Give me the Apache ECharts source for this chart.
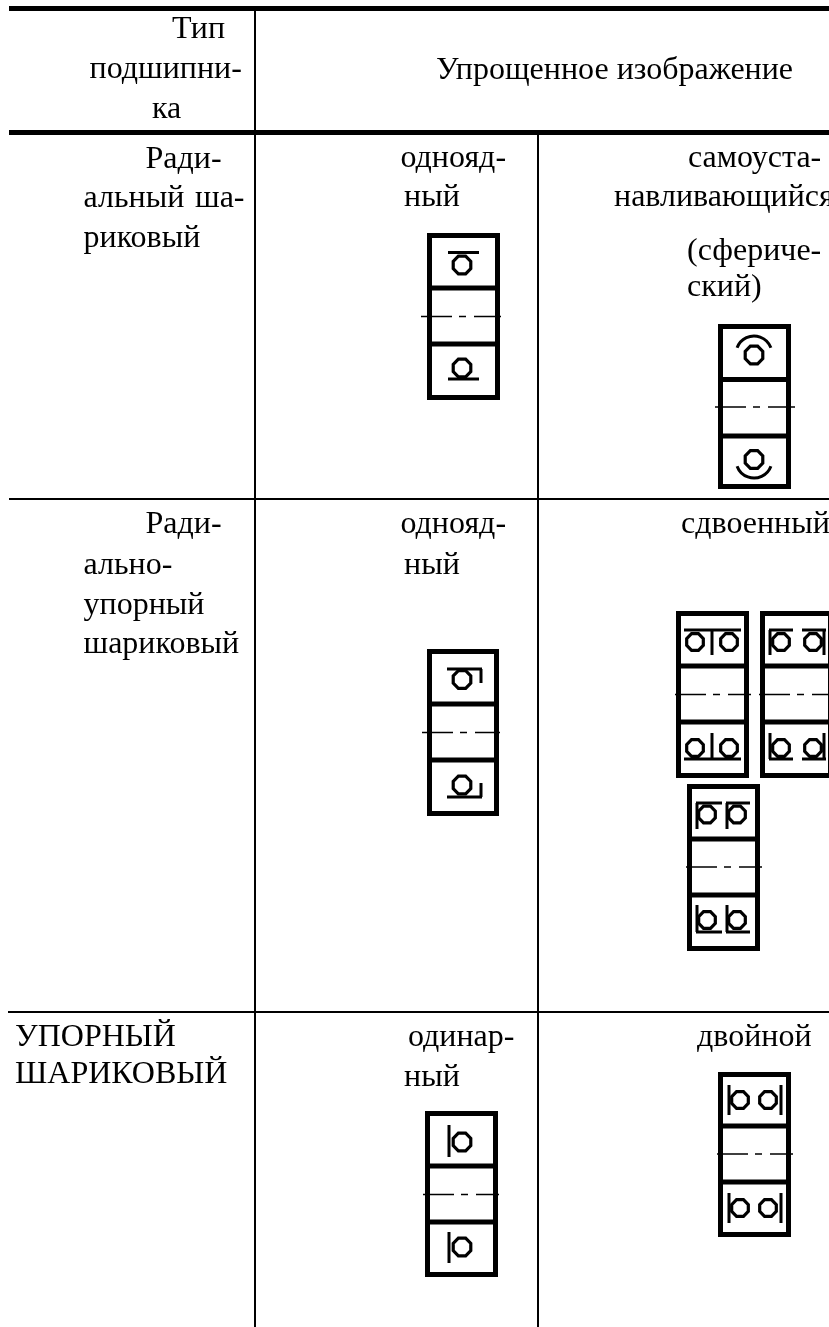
<!DOCTYPE html>
<html>
<head>
<meta charset="utf-8">
<style>
  html, body { margin: 0; background: #fff; }
  #chart { width: 829px; height: 1327px; }
</style>
<script src="https://cdn.jsdelivr.net/npm/echarts@6/dist/echarts.min.js"></script>
</head>
<body>
<div id="chart"></div>
<script>
// all numbers are read off the picture, in axis units (x: 0-829, y: 0-1327)
// text: string, left edge, baseline
var textLines = [
  ["Тип", 172, 40], ["подшипни-", 89.5, 80], ["ка", 152, 120],
  ["Упрощенное изображение", 436, 81],
  ["Ради-", 145.5, 170], ["альный", 83.5, 209], ["ша-", 195, 209], ["риковый", 83.5, 249],
  ["однояд-", 400.5, 169], ["ный", 404, 208],
  ["самоуста-", 688, 169], ["навливающийся", 614, 208],
  ["(сфериче-", 687, 262], ["ский)", 687, 298],
  ["Ради-", 145.5, 535], ["ально-", 83.5, 576], ["упорный", 83.5, 616], ["шариковый", 83.5, 655],
  ["однояд-", 400.5, 535], ["ный", 404, 576], ["сдвоенный", 681, 535],
  ["УПОРНЫЙ", 15, 1048], ["ШАРИКОВЫЙ", 15, 1085],
  ["одинар-", 408, 1048], ["ный", 404, 1088], ["двойной", 697, 1048]
];
var heavyRules = [[9, 8.5, 829, 8.5], [9, 132.5, 829, 132.5]];
var thinRules = [
  [9, 499, 829, 499], [8, 1012, 829, 1012],
  [255, 8, 255, 1327], [538, 133, 538, 1327]
];
var frames = [
  [427, 233, 500, 400], [718, 324, 791, 489], [427, 649, 499, 816], [676, 611, 749, 778],
  [760, 611, 833, 778], [687, 784, 760, 951], [425, 1111, 498, 1277], [718, 1072, 791, 1237]
];
var dividers = [
  [427, 288, 500, 288], [427, 344, 500, 344],
  [718, 379.5, 791, 379.5], [718, 436, 791, 436],
  [427, 704, 499, 704], [427, 760, 499, 760],
  [676, 666, 749, 666], [676, 722, 749, 722],
  [760, 666, 833, 666], [760, 722, 833, 722],
  [687, 839, 760, 839], [687, 895, 760, 895],
  [425, 1166, 498, 1166], [425, 1222, 498, 1222],
  [718, 1126, 791, 1126], [718, 1182, 791, 1182]
];
var centerLines = [
  [421, 501, 316.5], [715, 795, 407], [422, 500, 732.5], [675, 751, 694.5],
  [759, 829, 694.5], [686, 762, 867], [423, 499, 1194.5], [717, 793, 1154]
];
var races = [
  [448, 252.5, 479, 252.5], [448, 379, 479, 379],
  [447, 669, 482, 669], [481, 669, 481, 683], [447, 797, 482, 797], [481, 797, 481, 783],
  [684, 630, 741, 630], [712, 630, 712, 655], [684, 759, 741, 759], [712, 733, 712, 759],
  [769, 630, 793, 630], [770, 630, 770, 655], [802, 630, 826, 630], [824, 630, 824, 655],
  [769, 759, 793, 759], [770, 733, 770, 759], [802, 759, 826, 759], [824, 733, 824, 759],
  [696, 803, 722, 803], [697, 803, 697, 829], [726, 803, 750, 803], [727, 803, 727, 829],
  [696, 932, 722, 932], [697, 905, 697, 932], [726, 932, 750, 932], [727, 905, 727, 932],
  [449, 1125, 449, 1157], [449, 1232, 449, 1263],
  [729, 1085, 729, 1115], [781, 1085, 781, 1115], [729, 1193, 729, 1223], [781, 1193, 781, 1223]
];
var balls = [
  [462, 265, 9.5], [462, 368, 9.5], [754, 355, 9.5], [754, 459.5, 9.5],
  [462, 679.5, 9.5], [462, 785, 9.5],
  [695, 642, 9], [729, 642, 9], [695, 748, 9], [729, 748, 9],
  [781, 642, 9], [813, 642, 9], [781, 748, 9], [813, 748, 9],
  [707, 814.5, 9], [737, 814.5, 9], [707, 920, 9], [737, 920, 9],
  [462, 1142, 9.5], [462, 1247, 9.5],
  [740, 1100, 9], [768, 1100, 9], [740, 1208, 9], [768, 1208, 9]
];
var sphereArcs = [[754, 354, 18, 200, 340], [754, 460, 18, 20, 160]];

var chart = echarts.init(document.getElementById("chart"));

function segments(width, data) {
  return {
    type: "custom",
    coordinateSystem: "cartesian2d",
    silent: true,
    data: data,
    encode: { x: [0, 2], y: [1, 3] },
    renderItem: function(params, api) {
      var a = api.coord([api.value(0), api.value(1)]);
      var b = api.coord([api.value(2), api.value(3)]);
      return {
        type: "line",
        shape: { x1: a[0], y1: a[1], x2: b[0], y2: b[1] },
        style: { stroke: "#000", lineWidth: width, fill: null }
      };
    }
  };
}

var option = {
  animation: false,
  backgroundColor: "#fff",
  grid: { left: 0, right: 0, top: 0, bottom: 0 },
  xAxis: { type: "value", min: 0, max: 829, show: false },
  yAxis: { type: "value", min: 0, max: 1327, inverse: true, show: false },
  series: [
    segments(5, heavyRules),
    segments(2, thinRules),
    segments(5, dividers),
    segments(3, races),
    {
      // bearing outlines
      type: "custom",
      silent: true,
      data: frames,
      encode: { x: [0, 2], y: [1, 3] },
      renderItem: function(params, api) {
        var a = api.coord([api.value(0), api.value(1)]);
        var b = api.coord([api.value(2), api.value(3)]);
        return {
          type: "rect",
          shape: { x: a[0] + 2.5, y: a[1] + 2.5, width: b[0] - a[0] - 5, height: b[1] - a[1] - 5 },
          style: { stroke: "#000", lineWidth: 5, fill: null }
        };
      }
    },
    {
      // dash-dot axis lines
      type: "custom",
      silent: true,
      data: centerLines,
      encode: { x: [0, 1], y: 2 },
      renderItem: function(params, api) {
        var a = api.coord([api.value(0), api.value(2)]);
        var b = api.coord([api.value(1), api.value(2)]);
        return {
          type: "line",
          shape: { x1: a[0], y1: a[1], x2: b[0], y2: b[1] },
          style: { stroke: "#000", lineWidth: 1.6, fill: null, lineDash: [31, 7, 7, 8, 40] }
        };
      }
    },
    {
      // balls are drawn as small octagons, they look like that in the scan
      type: "custom",
      silent: true,
      data: balls,
      encode: { x: 0, y: 1 },
      renderItem: function(params, api) {
        var c = api.coord([api.value(0), api.value(1)]);
        var r = api.value(2);
        var pts = [];
        for (var i = 0; i < 8; i++) {
          var t = Math.PI / 8 + i * Math.PI / 4;
          pts.push([c[0] + r * Math.cos(t), c[1] + r * Math.sin(t)]);
        }
        return {
          type: "polygon",
          shape: { points: pts },
          style: { stroke: "#000", lineWidth: 3.2, fill: null }
        };
      }
    },
    {
      type: "custom",
      silent: true,
      data: sphereArcs,
      encode: { x: 0, y: 1 },
      renderItem: function(params, api) {
        var c = api.coord([api.value(0), api.value(1)]);
        return {
          type: "arc",
          shape: {
            cx: c[0], cy: c[1], r: api.value(2),
            startAngle: api.value(3) * Math.PI / 180,
            endAngle: api.value(4) * Math.PI / 180,
            clockwise: true
          },
          style: { stroke: "#000", lineWidth: 3, fill: null }
        };
      }
    },
    {
      type: "custom",
      silent: true,
      data: textLines.map(function(t) { return [t[1], t[2]]; }),
      encode: { x: 0, y: 1 },
      renderItem: function(params, api) {
        var c = api.coord([api.value(0), api.value(1)]);
        return {
          type: "text",
          style: {
            text: textLines[params.dataIndex][0],
            x: c[0], y: c[1] - 10,
            font: '32px "Liberation Serif"',
            fill: "#000",
            align: "left",
            verticalAlign: "middle"
          }
        };
      }
    }
  ]
};
chart.setOption(option);
</script>
</body>
</html>
